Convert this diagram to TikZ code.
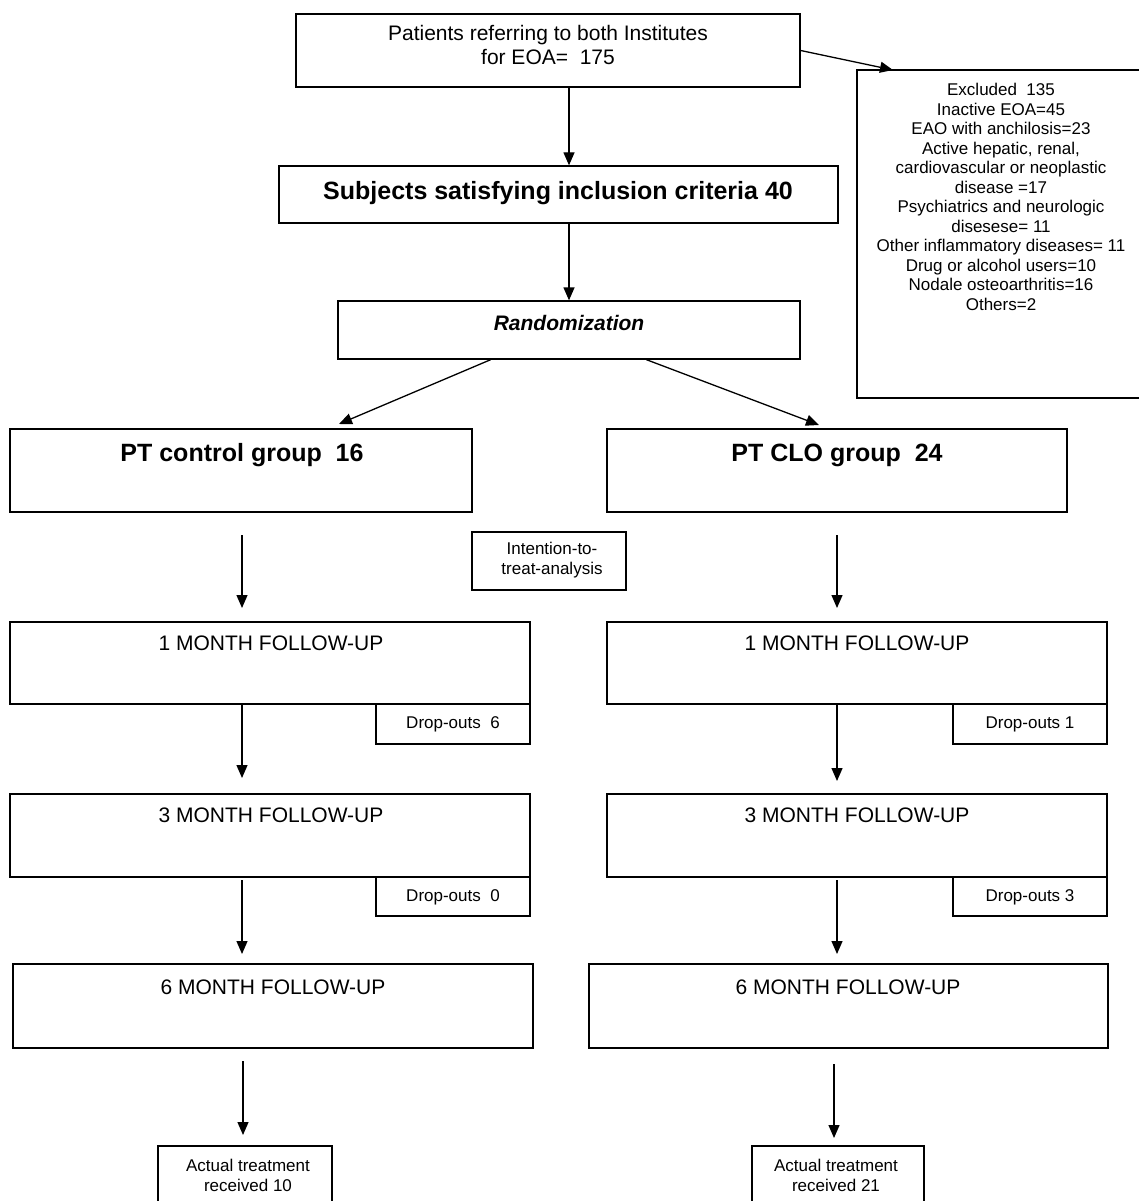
\documentclass[tikz,border=0pt]{standalone}
\usepackage{fontspec}
\setmainfont{Liberation Sans}
\usetikzlibrary{arrows.meta,calc,fit}
\begin{document}
\begin{tikzpicture}[x=1pt,y=-1pt,
  box/.style={draw=black, line width=1.3pt, rectangle, inner sep=0pt},
  txt/.style={inner sep=0pt, align=center, font=\fontsize{21}{24}\selectfont},
  small/.style={inner sep=0pt, align=center, font=\fontsize{17}{20}\selectfont},
  big/.style={inner sep=0pt, align=center, font=\fontsize{25}{28}\selectfont\bfseries},
  arr/.style={line width=1.3pt, -{Triangle[length=13pt,width=11pt]}}]
\useasboundingbox (0,0) rectangle (1139,1201);
% boxes
\node[box, fit={(296,14) (800,87)}] (top) {};
\node[box, fit={(279,166) (838,223)}] (subj) {};
\node[box, fit={(338,301) (800,359)}] (rand) {};
\node[box, fit={(857,70) (1145,398)}] (excl) {};
\node[box, fit={(10,429) (472,512)}] (ptL) {};
\node[box, fit={(607,429) (1067,512)}] (ptR) {};
\node[box, fit={(472,532) (626,590)}] (itt) {};
\node[box, fit={(10,622) (530,704)}] (m1L) {};
\node[box, fit={(607,622) (1107,704)}] (m1R) {};
\node[box, fit={(376,704) (530,744)}] (d1L) {};
\node[box, fit={(953,704) (1107,744)}] (d1R) {};
\node[box, fit={(10,794) (530,877)}] (m3L) {};
\node[box, fit={(607,794) (1107,877)}] (m3R) {};
\node[box, fit={(376,877) (530,916)}] (d3L) {};
\node[box, fit={(953,877) (1107,916)}] (d3R) {};
\node[box, fit={(13,964) (533,1048)}] (m6L) {};
\node[box, fit={(589,964) (1108,1048)}] (m6R) {};
\node[box, fit={(158,1146) (332,1212)}] (actL) {};
\node[box, fit={(752,1146) (924,1212)}] (actR) {};
% texts
\node[txt] (toptxt) at (548,45) {Patients referring to both Institutes\\for EOA= \ 175};
\node[big] (subjtxt) at (558,193) {Subjects satisfying inclusion criteria 40};
\node[inner sep=0pt, font=\fontsize{21}{24}\selectfont\bfseries\itshape] (randtxt) at (569,323) {Randomization};
\node[small, font=\fontsize{17}{19.5}\selectfont] (excltxt) at (1001,197) {Excluded \ 135\\Inactive EOA=45\\EAO with anchilosis=23\\Active hepatic, renal,\\cardiovascular or neoplastic\\disease =17\\Psychiatrics and neurologic\\disesese= 11\\Other inflammatory diseases= 11\\Drug or alcohol users=10\\Nodale osteoarthritis=16\\Others=2};
\node[big] (ptLtxt) at (242,455) {PT control group \ 16};
\node[big] (ptRtxt) at (837,455) {PT CLO group \ 24};
\node[small] (itttxt) at (552,560) {Intention-to-\\treat-analysis};
\node[txt] (m1Ltxt) at (271,643) {1 MONTH FOLLOW-UP};
\node[txt] (m1Rtxt) at (857,643) {1 MONTH FOLLOW-UP};
\node[small] (d1Ltxt) at (453,724) {Drop-outs \ 6};
\node[small] (d1Rtxt) at (1030,724) {Drop-outs 1};
\node[txt] (m3Ltxt) at (271,815) {3 MONTH FOLLOW-UP};
\node[txt] (m3Rtxt) at (857,815) {3 MONTH FOLLOW-UP};
\node[small] (d3Ltxt) at (453,897) {Drop-outs \ 0};
\node[small] (d3Rtxt) at (1030,897) {Drop-outs 3};
\node[txt] (m6Ltxt) at (273,987) {6 MONTH FOLLOW-UP};
\node[txt] (m6Rtxt) at (848,987) {6 MONTH FOLLOW-UP};
\node[small] (actLtxt) at (248,1175) {Actual treatment\\received 10};
\node[small] (actRtxt) at (836,1175) {Actual treatment\\received 21};
% free ends
\coordinate (exclin) at (893,70);
\coordinate (ptLin) at (339,424);
\coordinate (ptRin) at (819,425);
\coordinate (aL1s) at (242,535);
\coordinate (aL1e) at (242,608);
\coordinate (aR1s) at (837,535);
\coordinate (aR1e) at (837,608);
\coordinate (aL2e) at (242,778);
\coordinate (aR2e) at (837,781);
\coordinate (aL3s) at (242,880);
\coordinate (aL3e) at (242,954);
\coordinate (aR3s) at (837,880);
\coordinate (aR3e) at (837,954);
\coordinate (aL4s) at (243,1061);
\coordinate (aL4e) at (243,1135);
\coordinate (aR4s) at (834,1064);
\coordinate (aR4e) at (834,1138);
% connectors
\draw[arr] (top.east) -- (exclin);
\draw[arr] (top.south -| rand.north) -- (subj.north -| rand.north);
\draw[arr] (subj.south -| rand.north) -- (rand.north);
\draw[arr] ($(rand.south west)!0.331!(rand.south east)$) -- (ptLin);
\draw[arr] ($(rand.south west)!0.667!(rand.south east)$) -- (ptRin);
\draw[arr] (aL1s) -- (aL1e);
\draw[arr] (aR1s) -- (aR1e);
\draw[arr] (m1L.south -| aL1s) -- (aL2e);
\draw[arr] (m1R.south -| aR1s) -- (aR2e);
\draw[arr] (aL3s) -- (aL3e);
\draw[arr] (aR3s) -- (aR3e);
\draw[arr] (aL4s) -- (aL4e);
\draw[arr] (aR4s) -- (aR4e);
\end{tikzpicture}
\end{document}
